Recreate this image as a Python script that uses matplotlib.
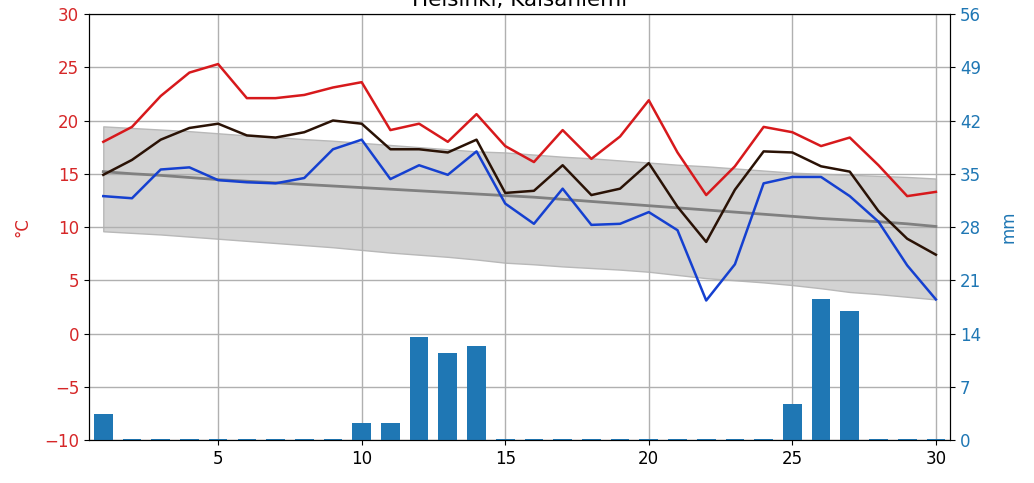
import numpy as np
import matplotlib
matplotlib.use("Agg")
import matplotlib.pyplot as plt

# päivät
paivat = np.arange(1, 31)

# lämpötilat (°C)
t_max = [18.0, 19.4, 22.3, 24.5, 25.3, 22.1, 22.1, 22.4, 23.1, 23.6,
         19.1, 19.7, 18.0, 20.6, 17.6, 16.1, 19.1, 16.4, 18.5, 21.9,
         17.0, 13.0, 15.7, 19.4, 18.9, 17.6, 18.4, 15.8, 12.9, 13.3]
t_ka = [14.9, 16.3, 18.2, 19.3, 19.7, 18.6, 18.4, 18.9, 20.0, 19.7,
        17.3, 17.3, 17.0, 18.2, 13.2, 13.4, 15.8, 13.0, 13.6, 16.0,
        11.9, 8.6, 13.5, 17.1, 17.0, 15.7, 15.2, 11.5, 8.9, 7.4]
t_min = [12.9, 12.7, 15.4, 15.6, 14.4, 14.2, 14.1, 14.6, 17.3, 18.2,
         14.5, 15.8, 14.9, 17.1, 12.2, 10.3, 13.6, 10.2, 10.3, 11.4,
         9.7, 3.1, 6.5, 14.1, 14.7, 14.7, 12.9, 10.5, 6.4, 3.2]

# vertailukauden keskiarvo ja vaihteluväli
t_normaali = [15.2, 15.0, 14.85, 14.65, 14.45, 14.3, 14.15, 14.0, 13.85, 13.7,
              13.55, 13.4, 13.25, 13.1, 12.95, 12.8, 12.6, 12.4, 12.2, 12.0,
              11.8, 11.6, 11.4, 11.2, 11.0, 10.8, 10.65, 10.5, 10.3, 10.05]
t_yla = [19.45, 19.3, 19.15, 19.0, 18.8, 18.6, 18.45, 18.25, 18.1, 17.9,
         17.7, 17.5, 17.3, 17.1, 17.0, 16.8, 16.6, 16.45, 16.25, 16.05,
         15.85, 15.7, 15.5, 15.3, 15.1, 15.0, 14.9, 14.8, 14.7, 14.55]
t_ala = [9.6, 9.45, 9.3, 9.1, 8.9, 8.7, 8.5, 8.3, 8.1, 7.85,
         7.6, 7.4, 7.2, 6.95, 6.65, 6.5, 6.3, 6.15, 6.0, 5.8,
         5.5, 5.2, 5.0, 4.8, 4.55, 4.25, 3.9, 3.7, 3.45, 3.2]

# sademäärä (mm)
sade = [3.4, 0.1, 0.1, 0.1, 0.1, 0.1, 0.1, 0.1, 0.1, 2.2,
        2.3, 13.5, 11.4, 12.4, 0.1, 0.1, 0.1, 0.1, 0.1, 0.1,
        0.1, 0.1, 0.1, 0.1, 4.7, 18.5, 16.9, 0.1, 0.1, 0.1]

fig, ax = plt.subplots(figsize=(10.34, 4.83), dpi=100)
plt.subplots_adjust(left=0.086, right=0.919, top=0.971, bottom=0.089)

# vaihteluväli + keskiarvo
ax.fill_between(paivat, t_ala, t_yla, color="#d3d3d3", edgecolor="#b8b8b8", linewidth=1)
ax.plot(paivat, t_normaali, color="gray", linewidth=2)
ax.plot(paivat, t_max, color="#d7191c", linewidth=1.8)
ax.plot(paivat, t_ka, color="#2a1205", linewidth=1.8)
ax.plot(paivat, t_min, color="#1540d0", linewidth=1.8)

ax.set_xlim(0.5, 30.5)
ax.set_ylim(-10, 30)
ax.set_xticks([5, 10, 15, 20, 25, 30])
ax.set_yticks(range(-10, 31, 5))
ax.grid(True, color="#b0b0b0", linewidth=1)
ax.tick_params(axis="both", labelsize=12)
ax.tick_params(axis="y", colors="tab:red")
ax.tick_params(axis="y", color="black")
ax.set_ylabel("°C", color="tab:red", fontsize=12, labelpad=9)
ax.set_title("Helsinki, Kaisaniemi", fontsize=15.5)

# sade toiselle akselille
ax2 = ax.twinx()
ax2.bar(paivat, sade, width=0.65, color="tab:blue")
ax2.set_ylim(0, 56)
ax2.set_yticks(range(0, 57, 7))
ax2.tick_params(axis="y", labelsize=12, labelcolor="tab:blue")
ax2.set_ylabel("mm", color="tab:blue", fontsize=12, labelpad=13)

plt.savefig("out.png", dpi=100)
